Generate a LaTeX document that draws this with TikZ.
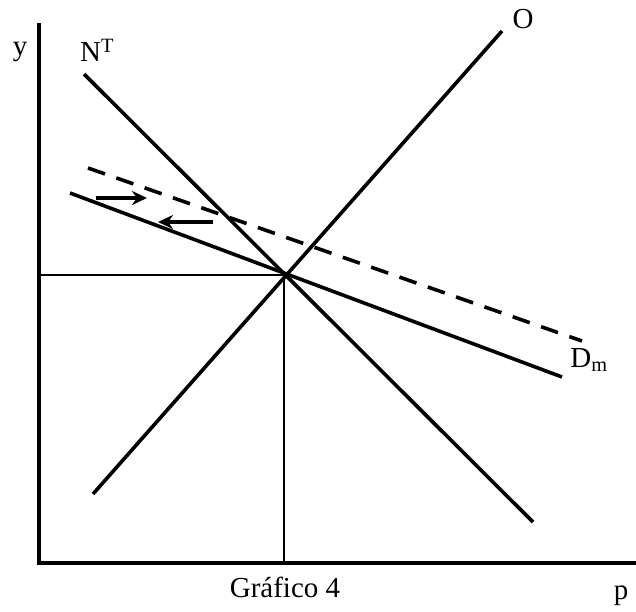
\documentclass[tikz,border=0pt]{standalone}
\usepackage{fontspec}
\setmainfont{Liberation Serif}
\usetikzlibrary{arrows.meta,calc,positioning}

\begin{document}
\begin{tikzpicture}[x=1pt,y=-1pt,
  recta/.style={line width=3.6pt},
  eje/.style={line width=3.6pt},
  flecha/.style={line width=3.4pt,-{Stealth[length=15pt,width=14pt]}},
  etiq/.style={font=\fontsize{29}{32}\selectfont,inner sep=0pt}]
  \useasboundingbox (0,0) rectangle (636,611);
  % ejes
  \coordinate (orig) at (39,563);
  \coordinate (ytop) at (39,25);
  \coordinate (xend) at (634,563);
  \draw[eje,line cap=rect] (ytop) -- (orig) -- (xend);
  % equilibrio
  \coordinate (E) at (284,275);
  \coordinate (Ey) at (39,275);
  \coordinate (Ex) at (284,563);
  \draw[line width=2.2pt] (Ey) -- (E) -- (Ex);
  % curvas
  \coordinate (NTa) at (84,74);
  \coordinate (NTb) at (533,522);
  \coordinate (Oa) at (93,494);
  \coordinate (Ob) at (502,31);
  \coordinate (Dma) at (70,193);
  \coordinate (Dmb) at (562,377);
  \coordinate (Dda) at (88,168);
  \coordinate (Ddb) at (582,341);
  \draw[recta] (NTa) -- (NTb);
  \draw[recta] (Oa) -- (Ob);
  \draw[recta] (Dma) -- (Dmb);
  \draw[recta,dash pattern=on 18pt off 12pt] (Dda) -- (Ddb);
  % flechas
  \coordinate (f1a) at (96,198);
  \coordinate (f1b) at (147,198);
  \coordinate (f2a) at (213,222);
  \coordinate (f2b) at (158,222);
  \draw[flecha] (f1a) -- (f1b);
  \draw[flecha] (f2a) -- (f2b);
  % etiquetas
  \node[etiq] (ly) at (20,52) {y};
  \node[etiq] (lNT) at (97,50) {N$^{\mathrm{T}}$};
  \node[etiq] (lO) at (523,19) {O};
  \node[etiq] (lDm) at (589,360) {D$_{\mathrm{m}}$};
  \node[etiq] (lp) at (621,596) {p};
  \node[etiq] (lgraf) at (285,587) {Gráfico 4};
\end{tikzpicture}
\end{document}
